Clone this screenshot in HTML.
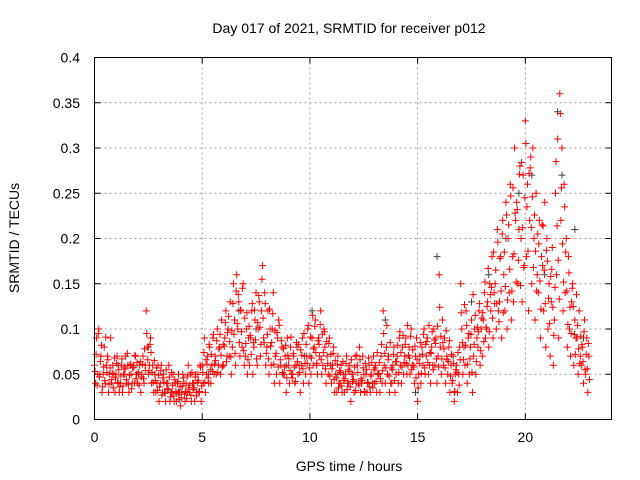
<!DOCTYPE html>
<html><head><meta charset="utf-8"><style>
html,body{margin:0;padding:0;background:#fff;}
svg{display:block;font-family:"Liberation Sans",sans-serif;}
</style></head><body>
<svg id="chart" width="640" height="480">
<text x="349" y="33" font-size="14" text-anchor="middle">Day 017 of 2021, SRMTID for receiver p012</text>
<text x="349" y="471" font-size="14" text-anchor="middle">GPS time / hours</text>
<text transform="translate(19,238) rotate(-90)" font-size="14" text-anchor="middle">SRMTID / TECUs</text>
<g id="grid"></g>
<g id="ticks"></g>
<g id="black"></g>
<g id="red"></g>
<rect x="94.5" y="57.5" width="517" height="362" fill="none" stroke="#000"/>
</svg>
<script>
const xTicks=[0,5,10,15,20];
const yTicks=[0,0.05,0.1,0.15,0.2,0.25,0.3,0.35,0.4];
const yTickLabels=["0","0.05","0.1","0.15","0.2","0.25","0.3","0.35","0.4"];
const stepHours=0.2;
const redValues=[
[.06,.04,.09,.05],[.10,.05,.07,.03],[.05,.08,.04,.06],[.07,.03,.05,.09],[.04,.06,.05,.03],
[.05,.07,.04,.03],[.04,.06,.03,.05],[.05,.07,.04,.06],[.03,.06,.05,.04],[.06,.04,.07,.05],
[.04,.05,.06,.03],[.05,.07,.04,.06],[.12,.08,.05,.06],[.09,.04,.06,.03],[.05,.03,.04,.06],
[.02,.04,.06,.03],[.05,.03,.02,.04],[.04,.06,.02,.03],[.03,.05,.02,.04],[.02,.04,.05,.03],
[.015,.03,.05,.04],[.02,.04,.03,.06],[.03,.05,.02,.04],[.04,.02,.05,.03],[.05,.03,.06,.02],
[.06,.04,.09,.03],[.05,.07,.04,.08],[.04,.06,.09,.05],[.07,.05,.10,.06],[.08,.05,.11,.06],
[.06,.09,.12,.07],[.10,.07,.13,.05],[.08,.15,.11,.06],[.16,.10,.13,.07],[.12,.08,.15,.06],
[.07,.10,.05,.09],[.06,.09,.12,.05],[.08,.11,.14,.06],[.10,.13,.07,.12],[.17,.09,.14,.06],
[.08,.12,.05,.10],[.06,.10,.14,.04],[.07,.05,.09,.11],[.04,.06,.08,.05],[.05,.07,.03,.09],
[.06,.04,.08,.05],[.05,.07,.04,.06],[.08,.05,.06,.03],[.06,.09,.04,.07],[.05,.07,.10,.04],
[.07,.05,.09,.06],[.08,.11,.06,.05],[.09,.07,.12,.05],[.06,.10,.08,.04],[.07,.05,.09,.06],
[.04,.06,.08,.03],[.05,.03,.07,.04],[.04,.06,.03,.05],[.03,.05,.07,.04],[.04,.06,.02,.05],
[.05,.03,.07,.04],[.06,.04,.08,.03],[.04,.07,.05,.03],[.05,.03,.04,.06],[.03,.05,.04,.07],
[.04,.06,.03,.05],[.05,.03,.07,.04],[.12,.06,.04,.08],[.05,.07,.03,.04],[.04,.06,.08,.03],
[.05,.07,.04,.09],[.06,.04,.08,.05],[.07,.09,.05,.06],[.08,.05,.10,.06],[.06,.04,.07,.09],
[.02,.05,.07,.04],[.08,.06,.10,.05],[.07,.09,.05,.06],[.04,.08,.06,.10],[.06,.09,.04,.07],
[.16,.08,.05,.11],[.06,.09,.04,.07],[.05,.08,.03,.06],[.04,.07,.02,.05],[.06,.03,.05,.08],
[.15,.10,.05,.08],[.06,.12,.04,.09],[.05,.08,.11,.03],[.07,.10,.05,.09],[.08,.12,.06,.10],
[.07,.11,.14,.09],[.10,.13,.08,.15],[.12,.18,.09,.14],[.15,.10,.21,.12],[.13,.18,.09,.22],
[.16,.12,.24,.10],[.20,.14,.26,.11],[.18,.13,.30,.22],[.24,.15,.21,.28],[.20,.13,.27,.17],
[.33,.18,.26,.12],[.22,.29,.15,.30],[.20,.11,.25,.16],[.14,.22,.09,.18],[.17,.12,.24,.08],
[.20,.10,.15,.07],[.13,.19,.06,.11],[.25,.16,.31,.09],[.36,.22,.30,.12],[.26,.14,.20,.08],
[.18,.10,.07,.13],[.15,.06,.11,.09],[.09,.05,.12,.07],[.06,.08,.04,.11],[.05,.09,.03,.07]];
const redValues2=[
[.053,.072,.038,.095],[.047,.064,.082,.036],[.058,.043,.091,.052],[.066,.039,.057,.044],[.051,.035,.068,.046],
[.062,.041,.055,.036],[.048,.067,.037,.058],[.056,.044,.073,.039],[.049,.061,.034,.057],[.058,.071,.045,.063],
[.052,.038,.064,.047],[.061,.045,.078,.054],[.095,.066,.054,.083],[.074,.052,.041,.065],[.043,.057,.032,.049],
[.036,.054,.027,.046],[.041,.029,.055,.034],[.033,.047,.025,.052],[.038,.026,.044,.031],[.029,.042,.022,.036],
[.024,.037,.046,.028],[.031,.023,.048,.035],[.038,.027,.052,.033],[.035,.047,.026,.041],[.043,.031,.058,.037],
[.052,.074,.041,.066],[.061,.046,.083,.055],[.072,.053,.094,.061],[.065,.087,.052,.078],[.094,.071,.058,.083],
[.081,.107,.064,.096],[.114,.086,.069,.098],[.128,.094,.073,.142],[.106,.138,.085,.121],[.097,.145,.076,.112],
[.084,.118,.066,.103],[.093,.072,.128,.085],[.121,.088,.067,.107],[.137,.102,.083,.155],[.112,.085,.128,.073],
[.094,.067,.122,.081],[.085,.117,.061,.098],[.073,.096,.058,.104],[.066,.087,.052,.078],[.058,.082,.046,.071],
[.067,.054,.091,.046],[.073,.058,.042,.085],[.064,.083,.052,.077],[.071,.056,.095,.062],[.083,.062,.104,.057],
[.091,.068,.115,.078],[.103,.074,.062,.087],[.083,.105,.066,.094],[.074,.097,.056,.086],[.062,.084,.048,.072],
[.056,.073,.044,.065],[.046,.061,.035,.054],[.052,.037,.064,.043],[.045,.062,.033,.055],[.053,.036,.066,.042],
[.044,.058,.032,.071],[.052,.038,.066,.045],[.043,.057,.031,.062],[.055,.041,.068,.036],[.048,.063,.035,.055],
[.057,.042,.074,.051],[.063,.045,.083,.054],[.095,.073,.057,.104],[.066,.048,.085,.057],[.055,.072,.043,.064],
[.064,.082,.052,.097],[.074,.058,.093,.063],[.083,.062,.104,.071],[.068,.092,.055,.077],[.058,.081,.046,.066],
[.035,.062,.085,.051],[.072,.094,.057,.083],[.086,.063,.104,.074],[.073,.097,.055,.088],[.084,.067,.103,.058],
[.124,.092,.067,.085],[.078,.057,.098,.066],[.064,.087,.048,.072],[.043,.062,.031,.055],[.052,.074,.038,.066],
[.118,.085,.066,.127],[.082,.104,.061,.095],[.067,.094,.052,.138],[.083,.115,.064,.102],[.097,.128,.076,.112],
[.118,.086,.152,.102],[.125,.167,.097,.138],[.146,.112,.185,.128],[.165,.128,.196,.108],[.178,.142,.205,.118],
[.185,.147,.226,.132],[.215,.166,.247,.142],[.256,.183,.228,.152],[.232,.176,.271,.148],[.284,.212,.168,.245],
[.305,.235,.186,.272],[.278,.212,.246,.168],[.226,.186,.142,.205],[.194,.153,.122,.215],[.214,.165,.128,.187],
[.175,.134,.106,.158],[.166,.124,.093,.146],[.285,.214,.176,.133],[.338,.256,.194,.152],[.235,.185,.142,.105],
[.162,.124,.095,.145],[.125,.094,.072,.138],[.104,.078,.062,.092],[.083,.064,.097,.055],[.072,.056,.084,.044]];
const blackTimes=[0.3,1.1,2.5,3.9,5.3,6.7,7.5,8.9,10.1,11.3,12.7,13.5,14.9,15.9,16.7,17.5,18.3,19.1,19.7,20.3,20.9,21.5,21.7,22.3,22.7];
const blackValues=[.07,.06,.08,.03,.05,.12,.10,.06,.12,.05,.04,.11,.03,.18,.03,.13,.16,.20,.25,.27,.16,.34,.27,.21,.09];
const X=t=>94.5+t*(517/24), Y=v=>419.5-v*(362/0.4);
const NS="http://www.w3.org/2000/svg";
const grid=document.getElementById('grid'), ticks=document.getElementById('ticks');
function mk(tag,attrs,parent){const e=document.createElementNS(NS,tag);for(const k in attrs)e.setAttribute(k,attrs[k]);parent.appendChild(e);return e;}
xTicks.forEach(t=>{const x=X(t);
 if(t>0){const g=mk('line',{x1:x,y1:57.5,x2:x,y2:419.5,stroke:'#a0a0a0','stroke-dasharray':'2,3'},grid);}
 mk('line',{x1:x,y1:419.5,x2:x,y2:413.5,stroke:'#000'},ticks);mk('line',{x1:x,y1:57.5,x2:x,y2:63.5,stroke:'#000'},ticks);
 const tx=mk('text',{x:x,y:442,'font-size':14,'text-anchor':'middle'},ticks);tx.textContent=t;
 });
yTicks.forEach((v,i)=>{const y=Y(v);
 if(i>0&&i<yTicks.length-1){const g=mk('line',{x1:94.5,y1:y,x2:611.5,y2:y,stroke:'#a0a0a0','stroke-dasharray':'2,3'},grid);}
 mk('line',{x1:94.5,y1:y,x2:100.5,y2:y,stroke:'#000'},ticks);mk('line',{x1:611.5,y1:y,x2:605.5,y2:y,stroke:'#000'},ticks);
 const tx=mk('text',{x:80,y:y+5,'font-size':14,'text-anchor':'end'},ticks);tx.textContent=yTickLabels[i];
 });
function plus(x,y,c,parent){const p=mk('path',{d:`M${x-3.5} ${y}h7M${x} ${y-3.5}v7`,stroke:c,'stroke-width':1,fill:'none'},parent);
 }
const bg=document.getElementById('black');
blackTimes.forEach((t,i)=>plus(X(t),Y(blackValues[i]),'#404040',bg));
const rg=document.getElementById('red');
redValues.forEach((vals,i)=>vals.forEach((v,j)=>plus(X(i*stepHours+j*0.05),Y(v),'#ff0000',rg)));
redValues2.forEach((vals,i)=>vals.forEach((v,j)=>plus(X(i*stepHours+0.025+j*0.05),Y(v),'#ff0000',rg)));
</script>
</body></html>
